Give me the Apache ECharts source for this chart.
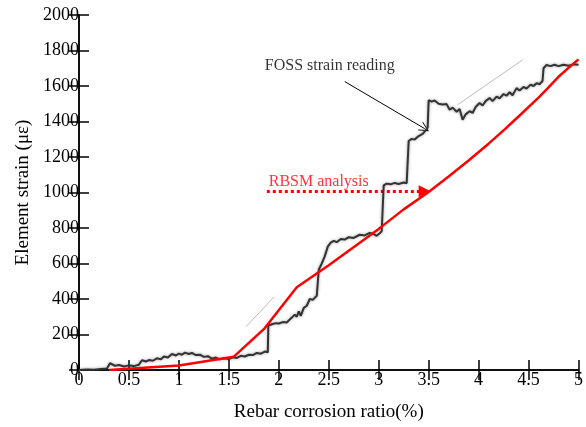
<!DOCTYPE html>
<html><head><meta charset="utf-8">
<script src="https://cdn.jsdelivr.net/npm/echarts@6/dist/echarts.min.js"></script>
<style>html,body{margin:0;padding:0;background:#fff}#c{width:586px;height:427px}</style>
</head><body><div id="c"></div>
<script>
// FOSS strain reading [ratio %, strain]
const fossData = [[0,0],[0.08,3],[0.15,2],[0.22,6],[0.28,8],[0.31,38],[0.33,30],[0.36,24],[0.4,28],[0.45,20],[0.5,26],[0.55,22],[0.6,30],[0.62,28],[0.63,55],[0.67,48],[0.7,56],[0.74,52],[0.78,66],[0.82,60],[0.85,76],[0.89,70],[0.93,90],[0.97,82],[1.0,92],[1.03,86],[1.06,98],[1.1,90],[1.13,96],[1.17,84],[1.21,86],[1.25,74],[1.29,78],[1.33,64],[1.37,70],[1.41,60],[1.45,66],[1.5,62],[1.54,72],[1.58,68],[1.62,80],[1.66,76],[1.7,86],[1.74,84],[1.78,96],[1.82,92],[1.86,104],[1.89,100],[1.895,250],[1.93,258],[1.97,264],[2.0,262],[2.04,270],[2.08,268],[2.11,285],[2.13,280],[2.16,312],[2.18,300],[2.2,330],[2.22,305],[2.25,350],[2.28,362],[2.31,400],[2.34,395],[2.38,418],[2.395,420],[2.40,565],[2.43,600],[2.46,640],[2.49,695],[2.52,718],[2.55,728],[2.58,720],[2.62,738],[2.66,735],[2.7,748],[2.75,744],[2.81,762],[2.86,758],[2.91,772],[2.95,766],[2.98,756],[3.01,770],[3.03,782],[3.05,790],[3.05,1040],[3.08,1050],[3.12,1046],[3.16,1054],[3.2,1048],[3.25,1056],[3.28,1052],[3.30,1060],[3.30,1290],[3.33,1302],[3.36,1298],[3.4,1318],[3.44,1330],[3.47,1350],[3.49,1365],[3.5,1370],[3.5,1520],[3.53,1512],[3.56,1518],[3.6,1500],[3.64,1496],[3.68,1498],[3.71,1466],[3.74,1478],[3.78,1455],[3.81,1470],[3.84,1410],[3.87,1440],[3.91,1458],[3.94,1448],[3.97,1482],[4.01,1504],[4.04,1490],[4.07,1515],[4.11,1532],[4.14,1515],[4.18,1540],[4.21,1530],[4.25,1555],[4.28,1545],[4.31,1565],[4.34,1548],[4.38,1588],[4.41,1575],[4.45,1595],[4.48,1585],[4.52,1608],[4.55,1600],[4.58,1616],[4.61,1610],[4.64,1628],[4.65,1630],[4.65,1700],[4.68,1718],[4.72,1712],[4.76,1720],[4.8,1712],[4.85,1720],[4.9,1714],[4.95,1722],[5.0,1720]];
// RBSM analysis
const rbsmData = [[0.3,0],[1.0,25],[1.55,75],[1.85,230],[2.18,466],[2.5,590],[3.0,795],[3.25,905],[3.5,1003],[3.7,1090],[3.9,1180],[4.1,1275],[4.25,1350],[4.4,1428],[4.6,1535],[4.7,1592],[4.8,1652],[4.9,1702],[5.0,1750]];
// faint ghost strokes in the scanned figure
const ghostA = [[1.67,243],[1.95,410]];
const ghostB = [[3.79,1494],[4.44,1747]];
// annotations
const fossArrow = [[2.66,1625],[3.46,1360]];
const rbsmArrow = [[1.88,1007],[3.46,1007]];
const labelFoss = [2.51,1715];
const labelRbsm = [2.40,1058];

const font = 'Liberation Serif';
const chart = echarts.init(document.getElementById('c'));
const axisLine = {lineStyle:{color:'#000',width:1.5}};
const tick = {inside:true,length:10,lineStyle:{color:'#000',width:1.5}};
const fmt = v => String(v);
chart.setOption({
  animation:false,
  grid:{left:79,right:7,top:15,bottom:56},
  xAxis:[{type:'value',min:0,max:5,interval:0.5,position:'bottom',
    axisLine:axisLine,axisTick:tick,splitLine:{show:false},
    axisLabel:{color:'#000',fontFamily:font,fontSize:18,margin:1,showMaxLabel:true,formatter:fmt},
    name:'Rebar corrosion ratio(%)',nameLocation:'middle',nameGap:33,
    nameTextStyle:{color:'#000',fontFamily:font,fontSize:19}},
   {type:'value',min:0,max:5,interval:0.5,position:'top',
    axisLine:axisLine,axisTick:tick,axisLabel:{show:false},splitLine:{show:false}}],
  yAxis:[{type:'value',min:0,max:2000,interval:200,position:'left',
    axisLine:axisLine,axisTick:tick,splitLine:{show:false},
    axisLabel:{color:'#000',fontFamily:font,fontSize:18,margin:0,formatter:fmt},
    name:'Element strain (με)',nameLocation:'middle',nameGap:43,
    nameTextStyle:{color:'#000',fontFamily:font,fontSize:19}},
   {type:'value',min:0,max:2000,interval:200,position:'right',
    axisLine:axisLine,axisTick:tick,axisLabel:{show:false},splitLine:{show:false}}],
  series:[
    {type:'line',data:ghostA,symbol:'none',lineStyle:{color:'#bbb',width:1}},
    {type:'line',data:ghostB,symbol:'none',lineStyle:{color:'#bbb',width:1}},
    {type:'line',data:fossData,symbol:'none',
      lineStyle:{color:'#333',width:2,shadowBlur:3,shadowColor:'rgba(0,0,0,0.4)'}},
    {type:'line',data:rbsmData,symbol:'none',lineStyle:{color:'#ff0000',width:2.5}},
    {type:'lines',coordinateSystem:'cartesian2d',
      symbol:['none','path://M0,10 L5,0 L10,10 L9,10 L5,2 L1,10 Z'],symbolSize:[10,10],
      lineStyle:{color:'#000',width:1,opacity:1},
      data:[{coords:fossArrow}]},
    {type:'lines',coordinateSystem:'cartesian2d',
      symbol:['none','triangle'],symbolSize:[9,12],
      lineStyle:{color:'#ff0000',width:3,type:[3,3],opacity:1},
      data:[{coords:rbsmArrow}]},
    {type:'scatter',symbolSize:0,silent:true,
      data:[{value:labelFoss,label:{show:true,formatter:'FOSS strain reading',color:'#000'}},
            {value:labelRbsm,label:{show:true,formatter:'RBSM analysis',color:'#ff0000'}}],
      label:{position:'inside',fontFamily:font,fontSize:16}}
  ]
});
</script></body></html>
